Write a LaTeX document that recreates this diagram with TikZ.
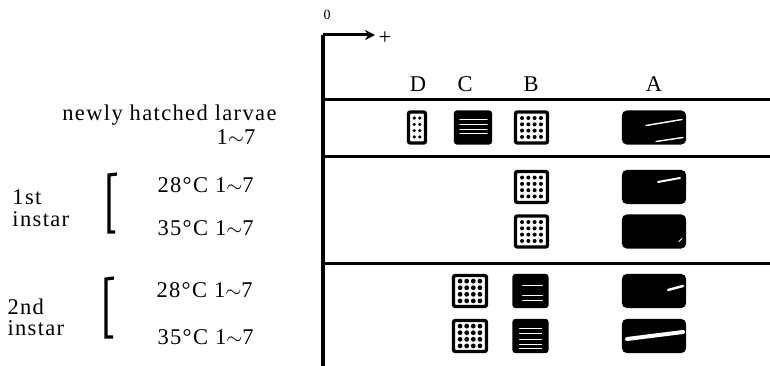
\documentclass[tikz,border=0pt]{standalone}
\usepackage{fontspec}
\setmainfont{Liberation Serif}[LetterSpace=6]
\usetikzlibrary{arrows.meta}
\def\cellh{31}
% dots of a cell: node, cols, rows, xstep, ystep, radius
\newcommand{\celldots}[6]{%
  \foreach \i in {1,...,#2}
    \foreach \j in {1,...,#3}
      \fill (#1.center) ++({(\i-(#2+1)/2)*#4},{(\j-(#3+1)/2)*#5}) circle (#6pt);}

\begin{document}
\begin{tikzpicture}[x=1pt,y=-1pt,line width=3pt]
  \tikzstyle{rowtext}=[font=\fontsize{22.5}{25}\selectfont, inner sep=0pt]
  \tikzstyle{cellbox}=[draw=black, fill=white, line width=3.4pt, rounded corners=2pt, inner sep=0pt, minimum height=\cellh pt]
  \tikzstyle{darkbox}=[cellbox, fill=black]
  \tikzstyle{streak}=[white, line width=1.4pt, line cap=round]
  \useasboundingbox (0,0) rectangle (770,366);

  % axis and arrow
  \coordinate (origin) at (323,35);
  \coordinate (tip) at (375,35);
  \coordinate (axisend) at (323,366);
  \draw[line width=3.6pt] (origin) -- (axisend);
  \draw[-{Stealth[length=10pt,width=10pt]}] (origin) -- (tip);
  \node[rowtext] (plus) at (385,38) {+};
  \node[font=\fontsize{14}{14}\selectfont, inner sep=0pt] (zero) at (327,15) {0};

  % rules of the table
  \foreach \y in {100,157,263}
    \draw (322,\y) -- (770,\y);

  % column heads
  \foreach \name / \x in {D/418,C/465,B/531,A/654}
    \node[rowtext] (head-\name) at (\x,84) {\name};

  % row labels
  \node[rowtext, anchor=east] (newly) at (278,115) {newly hatched larvae};
  \node[rowtext] (newly-days) at (236,137) {1$\sim$7};
  \node[rowtext, anchor=west] (first) at (11,197) {1st};
  \node[rowtext, anchor=west] (first-instar) at (11,219) {instar};
  \node[rowtext, anchor=west] (second) at (6,307) {2nd};
  \node[rowtext, anchor=west] (second-instar) at (6,328) {instar};
  \node[rowtext, anchor=west] (t-a28) at (156,185) {28°C 1$\sim$7};
  \node[rowtext, anchor=west] (t-a35) at (156,228) {35°C 1$\sim$7};
  \node[rowtext, anchor=west] (t-b28) at (155,290) {28°C 1$\sim$7};
  \node[rowtext, anchor=west] (t-b35) at (156,337) {35°C 1$\sim$7};

  % brackets
  \draw[line width=3.2pt] (117,174) -- (109,175) -- (109,232) -- (115,232);
  \draw[line width=3.2pt] (114,278) -- (106,279) -- (106,337) -- (113,337);

  % column A
  \foreach \r / \y in {1/127.5,2/187,3/231.5,4/291,5/336}
    \node[darkbox, minimum width=61pt, rounded corners=4pt] (A-\r) at (654,\y) {};
  \draw[streak] ([shift={(-8,-2)}]A-1.center) -- ([shift={(28,-8)}]A-1.center);
  \draw[streak] ([shift={(2,14)}]A-1.center) -- ([shift={(29,10)}]A-1.center);
  \draw[streak, line width=2pt] ([shift={(4,-5)}]A-2.center) -- ([shift={(26,-9)}]A-2.center);
  \draw[streak, line width=1pt] ([shift={(25,10)}]A-3.center) -- ([shift={(28,7)}]A-3.center);
  \draw[streak, line width=2.4pt] ([shift={(14,-1)}]A-4.center) -- ([shift={(29,-5)}]A-4.center);
  \draw[streak, line width=4pt] ([shift={(-27,3)}]A-5.center) -- ([shift={(29,-4)}]A-5.center);

  % column B
  \foreach \r / \y in {1/127.5,2/187,3/231.5}
    \node[cellbox, minimum width=32pt] (B-\r) at (531.5,\y) {};
  \foreach \r / \y in {4/291,5/336}
    \node[darkbox, minimum width=33pt] (B-\r) at (530.5,\y) {};
  \foreach \r in {1,2,3}
    {\celldots{B-\r}{4}{4}{6.3}{6.3}{2}}
  \foreach \dy in {-6,4,9}
    \draw[streak, line width=0.8pt] ([shift={(-8,\dy)}]B-4.center) -- ([shift={(12,\dy)}]B-4.center);
  \foreach \dy in {-8,-3,3,8,12}
    \draw[streak, line width=1pt] ([shift={(-11,\dy)}]B-5.center) -- ([shift={(11,\dy)}]B-5.center);

  % column C
  \node[darkbox, minimum width=35pt] (C-1) at (473,127.5) {};
  \foreach \dy in {-8,-3,2,6}
    \draw[streak, line width=1.2pt] ([shift={(-13,\dy)}]C-1.center) -- ([shift={(14,\dy)}]C-1.center);
  \foreach \r / \y in {4/291,5/336}
    \node[cellbox, minimum width=33pt] (C-\r) at (470,\y) {};
  \foreach \r in {4,5}
    {\celldots{C-\r}{4}{4}{6.6}{6.6}{2.4}}

  % column D
  \node[cellbox, minimum width=17pt] (D-1) at (417,127.5) {};
  \celldots{D-1}{2}{4}{5.5}{6.3}{1.8}
\end{tikzpicture}
\end{document}
